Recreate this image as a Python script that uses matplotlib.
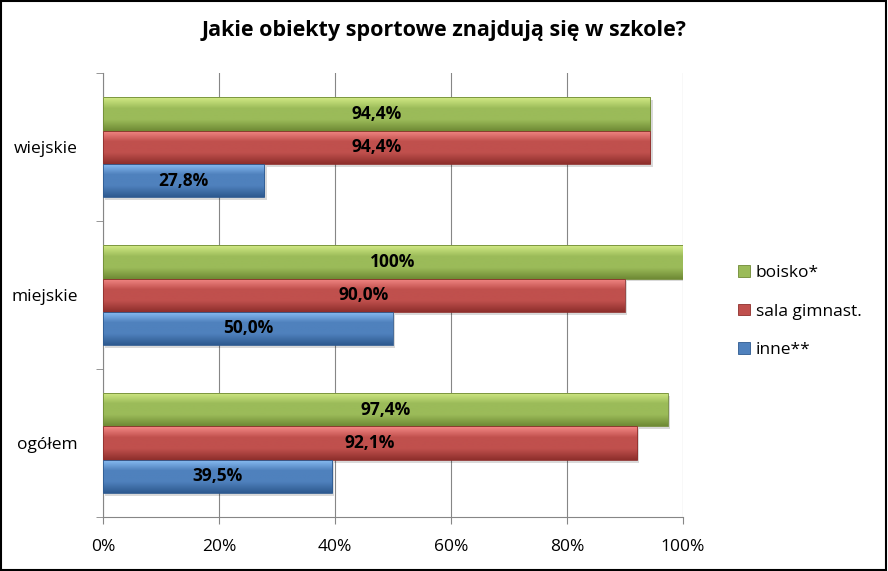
import numpy as np
import matplotlib.pyplot as plt
from matplotlib.patches import Rectangle
from matplotlib.colors import LinearSegmentedColormap

categories = ['ogółem', 'miejskie', 'wiejskie']
series = ['boisko*', 'sala gimnast.', 'inne**']
boisko = [97.4, 100.0, 94.4]
sala = [92.1, 90.0, 94.4]
inne = [39.5, 50.0, 27.8]
labels_boisko = ['97,4%', '100%', '94,4%']
labels_sala = ['92,1%', '90,0%', '94,4%']
labels_inne = ['39,5%', '50,0%', '27,8%']
xticks = [0, 20, 40, 60, 80, 100]

colors = ['#9BBB59', '#C0504D', '#4F81BD']
light = ['#D2EA85', '#F58A87', '#8CC0F5']
dark = ['#6F8A35', '#8E2F2C', '#2E5A90']

plt.rcParams['font.family'] = ['Open Sans', 'DejaVu Sans']

fig = plt.figure(figsize=(8.88, 5.71), dpi=100)
ax = fig.add_axes([0.116, 0.0946, 0.653, 0.777])

h = 0.225
y = np.arange(len(categories))
offsets = [h, 0, -h]
data = [boisko, sala, inne]
labs = [labels_boisko, labels_sala, labels_inne]

for k in range(3):
    cmap = LinearSegmentedColormap.from_list('g%d' % k, [dark[k], colors[k], colors[k], light[k]])
    grad = np.linspace(0, 1, 64).reshape(-1, 1)
    for i, v in enumerate(data[k]):
        yc = y[i] + offsets[k]
        # shadow
        ax.add_patch(Rectangle((0.4, yc - h / 2 - 0.02), v, h, color='#000000', alpha=0.15, lw=0, zorder=2))
        bars = ax.barh(yc, v, height=h, color=colors[k], lw=0, zorder=3)
        im = ax.imshow(grad, cmap=cmap, aspect='auto', origin='lower',
                       extent=[0, v, yc - h / 2, yc + h / 2], zorder=3.5)
        im.set_clip_path(bars[0])
        ax.add_patch(Rectangle((0, yc - h / 2), v, h, fill=False, ec=dark[k], lw=0.6, zorder=4))
        ax.text(v / 2, yc, labs[k][i], ha='center', va='center', fontsize=12.5,
                fontweight='bold', color='black', zorder=5)

ax.set_xlim(0, 100)
ax.set_ylim(-0.5, 2.5)
ax.set_xticks(xticks)
ax.set_xticklabels(['%d%%' % t for t in xticks], fontsize=12.5)
ax.set_yticks(y)
ax.set_yticklabels(categories, fontsize=12.5)
ax.set_yticks([-0.5, 0.5, 1.5, 2.5], minor=True)
ax.tick_params(axis='y', which='major', length=0, pad=18)
ax.tick_params(axis='y', which='minor', length=5, color='#868686')
ax.tick_params(axis='x', length=5, color='#868686', pad=11)
ax.grid(axis='x', color='#868686', lw=0.8, zorder=0)
ax.set_axisbelow(True)
for s in ['top', 'right']:
    ax.spines[s].set_visible(False)
for s in ['left', 'bottom']:
    ax.spines[s].set_color('#868686')

handles = [Rectangle((0, 0), 1, 1, fc=colors[k], ec=dark[k], lw=0.6) for k in range(3)]
fig.legend(handles, series, loc='center left', bbox_to_anchor=(0.814, 0.454), frameon=False,
           fontsize=12.5, handlelength=0.65, handleheight=0.65, handletextpad=0.35, labelspacing=1.3)

fig.suptitle('Jakie obiekty sportowe znajdują się w szkole?', x=0.5, y=0.965,
             fontsize=15.5, fontweight='bold')

fig.patches.append(Rectangle((0.001, 0.001), 0.997, 0.997, transform=fig.transFigure,
                             fill=False, ec='black', lw=1.5))

fig.savefig('out.png', dpi=100)
